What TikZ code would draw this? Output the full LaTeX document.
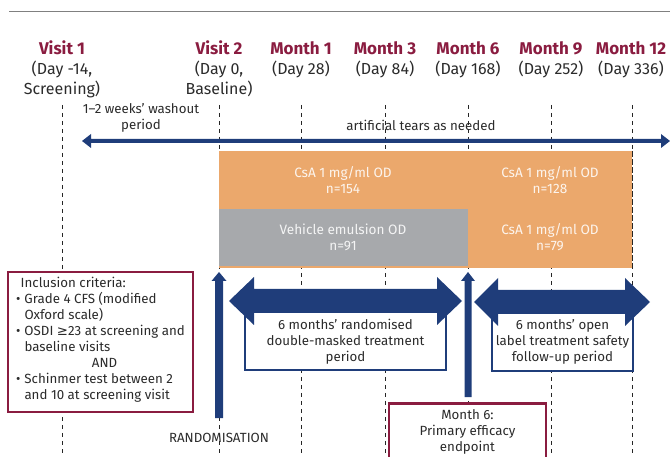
\documentclass[tikz,border=0pt]{standalone}
\usepackage{fontspec}
\usetikzlibrary{calc}
\setmainfont{Fira Sans}
\newfontfamily\symfont{DejaVu Sans}
\definecolor{maroon}{HTML}{8A1C40}
\definecolor{navy}{HTML}{1F3D7A}
\definecolor{orng}{HTML}{EBA86C}
\definecolor{cellgray}{HTML}{A7A9AC}
\definecolor{txt}{HTML}{2B2B2B}
\begin{document}
\begin{tikzpicture}[x=1pt,y=-1pt,
  hdr/.style={text=maroon,font=\bfseries\fontsize{17}{20}\selectfont,inner sep=0pt},
  day/.style={text=txt,font=\fontsize{16}{20}\selectfont,align=center,inner sep=0pt},
  body/.style={text=txt,font=\fontsize{13.3}{16}\selectfont,align=center,inner sep=0pt},
  celltext/.style={text=white,text opacity=0.88,font=\fontsize{13.6}{16}\selectfont,align=center,inner sep=0pt},
  vline/.style={draw=black!85,dash pattern=on 4pt off 4pt,line width=1pt},
  cell/.style={anchor=north west,inner sep=0pt,outer sep=0pt},
  navybox/.style={draw=navy,line width=1.6pt,fill=white,anchor=north west,inner sep=0pt,outer sep=0pt},
  marbox/.style={draw=maroon,line width=2.4pt,fill=white,anchor=north west,inner sep=0pt,outer sep=0pt}
]
\useasboundingbox (0,0) rectangle (670,457);
% top rule
\coordinate (ruleL) at (9,11.5);
\coordinate (ruleR) at (670,11.5);
\draw[line width=1.8pt,draw=black!50] (ruleL) -- (ruleR);

% headers
\node[hdr] (h1) at (62,48) {Visit 1};
\node[day] (d1) at (62,79) {(Day -14,\\Screening)};
\node[hdr] (h2) at (219,48) {Visit 2};
\node[day] (d2) at (219,79) {(Day 0,\\Baseline)};
\node[hdr] (h3) at (301,48) {Month 1};
\node[day] (d3) at (301,69) {(Day 28)};
\node[hdr] (h4) at (385,48) {Month 3};
\node[day] (d4) at (385,69) {(Day 84)};
\node[hdr] (h5) at (468,48) {Month 6};
\node[day] (d5) at (468,69) {(Day 168)};
\node[hdr] (h6) at (551,48) {Month 9};
\node[day] (d6) at (551,69) {(Day 252)};
\node[hdr] (h7) at (631,48) {Month 12};
\node[day] (d7) at (631,69) {(Day 336)};

% dashed time lines
\foreach \n/\x in {a/62,b/219,c/301,d/385,e/468,f/551,g/632}{
  \coordinate (t\n) at (\x,105);
  \coordinate (b\n) at (\x,457);
  \draw[vline] (t\n) -- (b\n);
}

% washout & tears labels
\node[body] (wash) at (141,117.5) {1--2 weeks’ washout\\period};
\node[body] (tears) at (421,125) {artificial tears as needed};

% long double arrow
\coordinate (laL) at (82,141);
\coordinate (laR) at (670,141);
\fill[navy] (laL) -- ++(9,-7) -- ++(0,5) -- ($(laR)+(-9,-2)$) -- ++(0,-5) -- (laR) -- ++(-9,7) -- ++(0,-5) -- ($(laL)+(9,2)$) -- ++(0,5) -- cycle;

% treatment cells
\node[cell,fill=orng,minimum width=413pt,minimum height=117pt] (orbox) at (219,151) {};
\node[cell,fill=cellgray,minimum width=249pt,minimum height=57pt] (grbox) at (219,209.5) {};
\node[celltext] (c1) at (343,180) {CsA 1 mg/ml OD\\n=154};
\node[celltext] (c2) at (550,180) {CsA 1 mg/ml OD\\n=128};
\node[celltext] (c3) at (343,237) {Vehicle emulsion OD\\n=91};
\node[celltext] (c4) at (550,237) {CsA 1 mg/ml OD\\n=79};
\draw[vline] (632,151) -- (632,268);

% inclusion criteria box
\node[marbox,minimum width=185pt,minimum height=140pt] (incl) at (8,272) {};
\node[text=txt,font=\fontsize{13.3}{16}\selectfont,anchor=north west,inner sep=0pt,align=left] (incltext) at (16,276) {%
\renewcommand\arraystretch{1}%
\begin{tabular}{@{}l@{\hspace{4pt}}l@{}}
\multicolumn{2}{@{}l@{}}{\hspace{4.5pt}Inclusion criteria:}\\
\textbullet & Grade 4 CFS (modified\\
 & Oxford scale)\\
\textbullet & OSDI {\symfont ≥}23 at screening and\\
 & baseline visits\\
\multicolumn{2}{@{}c@{}}{\hspace{8pt}AND}\\
\textbullet & Schinmer test between 2\\
 & and 10 at screening visit
\end{tabular}};

% randomisation arrow
\coordinate (r0) at (219,418);
\coordinate (r1) at (219,272);
\fill[navy] (r1) -- ++(7.5,9) -- ++(-3.5,0) -- ($(r0)+(4,0)$) -- ++(-8,0) -- ($(r1)+(-4,9)$) -- ++(-3.5,0) -- cycle;
\node[body] (rand) at (219,438) {RANDOMISATION};

% month 6 arrow
\coordinate (m0) at (468,397);
\coordinate (m1) at (468,272);
\fill[navy] (m1) -- ++(7,9) -- ++(-3.5,0) -- ($(m0)+(3.5,0)$) -- ++(-7,0) -- ($(m1)+(-3.5,9)$) -- ++(-3.5,0) -- cycle;

% period boxes
\node[navybox,minimum width=201pt,minimum height=64pt] (p1) at (245,306) {};
\node[body] (p1t) at (345.5,342) {6 months’ randomised\\double-masked treatment\\period};
\node[navybox,minimum width=141pt,minimum height=65pt] (p2) at (492,306) {};
\node[body] (p2t) at (562.5,342) {6 months’ open\\label treatment safety\\follow-up period};

% big double arrows
\coordinate (aL) at (229,301);
\coordinate (aR) at (462,301);
\fill[navy] (aL) -- ++(25,-24) -- ++(0,12) -- ($(aR)+(-25,-12)$) -- ++(0,-12) -- (aR) -- ++(-25,24) -- ++(0,-12) -- ($(aL)+(25,12)$) -- ++(0,12) -- cycle;
\coordinate (bL) at (474,302);
\coordinate (bR) at (650,302);
\fill[navy] (bL) -- ++(24,-24) -- ++(0,12) -- ($(bR)+(-25,-12)$) -- ++(0,-12) -- (bR) -- ++(-25,24) -- ++(0,-12) -- ($(bL)+(24,12)$) -- ++(0,12) -- cycle;

% month 6 endpoint box
\node[marbox,minimum width=157pt,minimum height=70pt] (ep) at (389,403.5) {};
\node[body] (ept) at (467.5,432) {Month 6:\\Primary efficacy\\endpoint};
\end{tikzpicture}
\end{document}
